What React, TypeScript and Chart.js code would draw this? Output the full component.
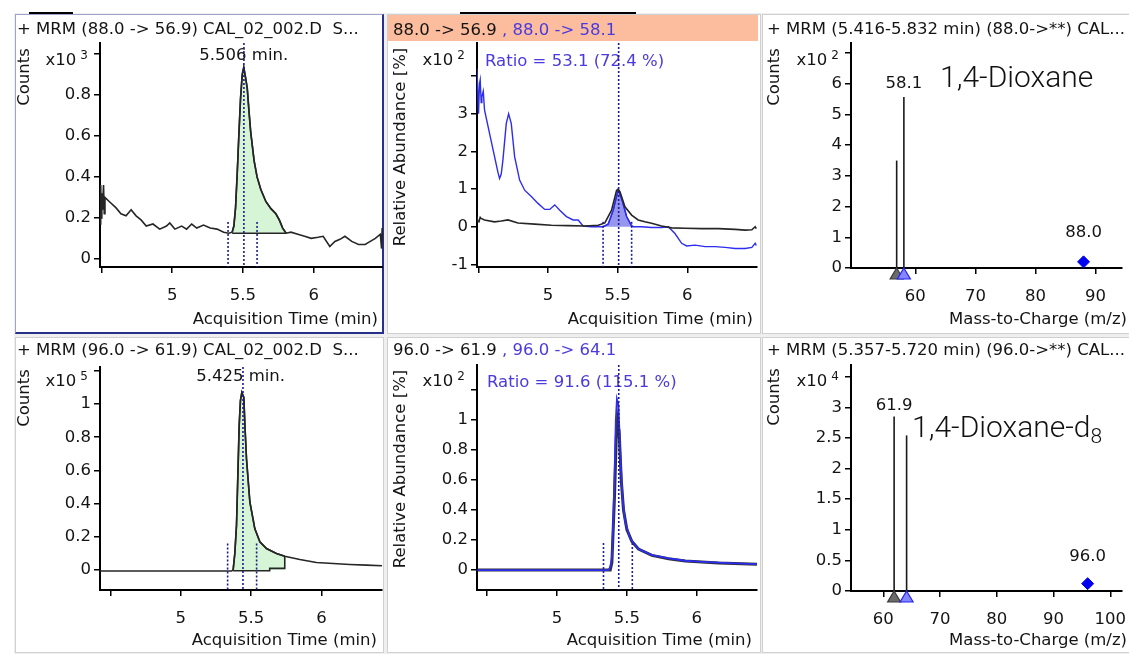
import React, { useEffect, useRef } from 'react';
import { Chart, registerables } from 'chart.js';

Chart.register(...registerables);

// ---------------- styling ----------------
const UI_FONT = '"DejaVu Sans", sans-serif';
const UI_SIZE = 16.5;
const INK = '#141414';
const TRACE = '#262626';
const QUAL_BLUE = '#2d2df0';
const TEXT_BLUE = '#4a3ae0';
const RT_NAVY = '#1c1c8e';
const PEAK_GREEN = 'rgb(214,245,214)';
const PEAK_LAVENDER = 'rgb(150,150,238)';

// ---------------- data ----------------
const timeTicks = [4.5, 5, 5.5, 6];
const hiddenTimeTicks = [4.5];

// 1,4-Dioxane quantifier 88.0 -> 56.9 (Counts x10^3)
const dxQuantTime = [4.492, 4.495, 4.498, 4.503, 4.508, 4.515, 4.52, 4.525, 4.555, 4.602, 4.638, 4.674, 4.71, 4.745, 4.78, 4.817, 4.864, 4.912, 4.96, 4.983, 5.019, 5.067, 5.102, 5.138, 5.174, 5.221, 5.269, 5.317, 5.364, 5.4, 5.424, 5.436, 5.448, 5.46, 5.471, 5.483, 5.495, 5.506, 5.52, 5.531, 5.543, 5.555, 5.579, 5.6, 5.626, 5.662, 5.698, 5.733, 5.757, 5.781, 5.805, 5.84, 5.888, 5.936, 5.983, 6.031, 6.067, 6.114, 6.15, 6.186, 6.221, 6.269, 6.317, 6.364, 6.4, 6.436, 6.471, 6.48, 6.484, 6.488];
const dxQuantCounts = [0.17, 0.36, 0.2, 0.32, 0.24, 0.36, 0.22, 0.3, 0.28, 0.25, 0.22, 0.21, 0.24, 0.21, 0.19, 0.16, 0.17, 0.145, 0.16, 0.175, 0.145, 0.16, 0.145, 0.17, 0.15, 0.165, 0.15, 0.145, 0.13, 0.125, 0.13, 0.16, 0.25, 0.42, 0.6, 0.78, 0.9, 0.935, 0.88, 0.83, 0.72, 0.62, 0.48, 0.4, 0.34, 0.28, 0.245, 0.22, 0.19, 0.15, 0.125, 0.13, 0.12, 0.11, 0.1, 0.105, 0.11, 0.06, 0.085, 0.095, 0.11, 0.085, 0.07, 0.07, 0.085, 0.1, 0.12, 0.05, 0.15, 0.09];
const dxPeakWindow = [5.424, 5.805];
const dxPeakBaseline = 0.125;
const dxRt = 5.506;
const dxRtLines = [5.395, 5.507, 5.6];
const dxCountTicks = [0, 0.2, 0.4, 0.6, 0.8, 1.0];

// 1,4-Dioxane qualifier overlay (Relative Abundance x10^2 %)
const dxQualTime = [4.489, 4.496, 4.501, 4.508, 4.513, 4.52, 4.525, 4.535, 4.544, 4.58, 4.616, 4.64, 4.652, 4.664, 4.676, 4.7, 4.717, 4.736, 4.76, 4.796, 4.832, 4.88, 4.928, 4.976, 5.012, 5.048, 5.084, 5.132, 5.18, 5.216, 5.252, 5.312, 5.396, 5.408, 5.432, 5.468, 5.504, 5.532, 5.564, 5.6, 5.612, 5.671, 5.743, 5.815, 5.863, 5.911, 5.959, 5.995, 6.055, 6.127, 6.199, 6.271, 6.343, 6.415, 6.463, 6.487, 6.495];
const dxQualAbund = [4.2, 3.6, 3.0, 3.8, 3.9, 3.3, 3.45, 3.6, 3.1, 2.48, 1.86, 1.45, 1.28, 1.4, 1.77, 2.74, 3.0, 2.74, 1.86, 1.24, 0.97, 0.8, 0.62, 0.46, 0.46, 0.58, 0.44, 0.27, 0.18, 0.18, 0.02, 0, 0, 0.02, 0.07, 0.44, 0.99, 0.7, 0.27, 0.02, 0, 0, -0.02, -0.02, 0, -0.18, -0.44, -0.51, -0.49, -0.53, -0.53, -0.55, -0.58, -0.58, -0.55, -0.44, -0.5];
const dxQuantOvTime = [4.489, 4.495, 4.504, 4.513, 4.52, 4.544, 4.616, 4.664, 4.712, 4.784, 4.904, 5.024, 5.144, 5.264, 5.36, 5.408, 5.456, 5.492, 5.504, 5.516, 5.552, 5.6, 5.647, 5.695, 5.743, 5.815, 5.887, 5.983, 6.103, 6.223, 6.343, 6.415, 6.463, 6.487, 6.495];
const dxQuantOvAbund = [0.27, 0.15, 0.13, 0.25, 0.22, 0.18, 0.13, 0.15, 0.18, 0.1, 0.07, 0.04, 0.03, 0.02, 0.04, 0.1, 0.44, 0.97, 0.99, 0.93, 0.53, 0.31, 0.18, 0.13, 0.09, 0.02, -0.03, -0.04, -0.05, -0.05, -0.07, -0.09, -0.08, 0, -0.05];
const dxQualWindow = [5.396, 5.612];
const dxRatioTicks = [-1, 0, 1, 2, 3, 4];
const dxRatioText = 'Ratio = 53.1 (72.4 %)';

// 1,4-Dioxane product ions 88.0 -> ** (Counts x10^2)
const dxIonMz = [56.9, 58.1];
const dxIonCounts = [3.5, 5.57];
const dxPrecursorMz = [88.0];
const dxPrecursorCounts = [0.2];
const dxSpecYTicks = [0, 1, 2, 3, 4, 5, 6, 7];
const dxSpecXTicks = [60, 70, 80, 90];

// 1,4-Dioxane-d8 quantifier 96.0 -> 61.9 (Counts x10^5)
const d8QuantTime = [4.426, 5.36, 5.372, 5.384, 5.396, 5.405, 5.415, 5.424, 5.434, 5.448, 5.457, 5.467, 5.491, 5.526, 5.562, 5.609, 5.68, 5.739, 5.846, 5.964, 6.083, 6.201, 6.32, 6.43];
const d8QuantCounts = [-0.006, -0.006, 0, 0.1, 0.27, 0.55, 0.87, 1.02, 1.07, 1.04, 0.85, 0.67, 0.41, 0.25, 0.17, 0.13, 0.1, 0.083, 0.064, 0.046, 0.04, 0.034, 0.03, 0.026];
const d8PeakWindow = [5.372, 5.739];
const d8BaseTime = [5.372, 5.632, 5.632, 5.739, 5.739];
const d8BaseCounts = [-0.004, -0.004, 0.01, 0.01, 0.083];
const d8Rt = 5.425;
const d8RtLines = [5.333, 5.442, 5.539];
const d8CountTicks = [0, 0.2, 0.4, 0.6, 0.8, 1.0, 1.2];

// 1,4-Dioxane-d8 qualifier overlay (Relative Abundance x10^2 %)
const d8QualTime = [4.433, 5.369, 5.381, 5.393, 5.402, 5.412, 5.421, 5.429, 5.44, 5.452, 5.469, 5.488, 5.524, 5.583, 5.679, 5.798, 5.917, 6.036, 6.155, 6.274, 6.43];
const d8QualAbund = [0, 0, 0.02, 0.08, 0.3, 0.63, 1.0, 1.14, 1.1, 0.79, 0.48, 0.32, 0.21, 0.14, 0.1, 0.078, 0.062, 0.055, 0.049, 0.044, 0.04];
const d8QuantOvTime = [4.433, 5.381, 5.393, 5.412, 5.424, 5.433, 5.445, 5.46, 5.476, 5.5, 5.536, 5.583, 5.679, 5.798, 5.917, 6.155, 6.43];
const d8QuantOvAbund = [0, 0, 0.05, 0.5, 0.88, 1.0, 0.92, 0.6, 0.4, 0.27, 0.19, 0.14, 0.098, 0.075, 0.06, 0.047, 0.038];
const d8RatioTicks = [0, 0.2, 0.4, 0.6, 0.8, 1.0, 1.2];
const d8RatioText = 'Ratio = 91.6 (115.1 %)';

// 1,4-Dioxane-d8 product ions 96.0 -> ** (Counts x10^4)
const d8IonMz = [61.9, 64.1];
const d8IonCounts = [2.85, 2.54];
const d8PrecursorMz = [96.0];
const d8PrecursorCounts = [0.12];
const d8SpecYTicks = [0, 0.5, 1, 1.5, 2, 2.5, 3, 3.5];
const d8SpecXTicks = [60, 70, 80, 90, 100];

// ---------------- helpers ----------------
const zip = (xs: number[], ys: number[]) =>
  xs.slice(0, Math.min(xs.length, ys.length)).map((x, i) => ({ x, y: ys[i] }));
const inWindow = (pts: any[], w: number[]) => pts.filter((p) => p.x >= w[0] - 1e-9 && p.x <= w[1] + 1e-9);

const line = (data: any[], color: string, width: number, order: number, extra: any = {}) => ({
  data,
  showLine: true,
  borderColor: color,
  backgroundColor: color,
  borderWidth: width,
  pointRadius: 0,
  fill: false,
  tension: 0,
  order,
  ...extra,
});

const rtLines = (ts: number[], edgeTop: number, yMin: number, yMax: number) =>
  ts.map((t, i) =>
    line(
      [
        { x: t, y: i === 1 ? yMax : edgeTop },
        { x: t, y: yMin },
      ],
      RT_NAVY,
      1.6,
      0,
      { borderDash: [2, 2] }
    )
  );

const sticks = (mz: number[], counts: number[]) =>
  zip(mz, counts).map((p) => line([{ x: p.x, y: 0 }, p], '#1a1a1a', 1.6, 1));

const fmt = (v: number) => String(Math.round(v * 1000) / 1000);

// ---------------- panels ----------------
const P1 = { yMin: -0.04, yMax: 1.054 };
const P2 = { yMin: -1.07, yMax: 4.88 };
const P3 = { yMin: 0, yMax: 7.33 };
const P4 = { yMin: -0.12, yMax: 1.223 };
const P5 = { yMin: -0.133, yMax: 1.367 };
const P6 = { yMin: 0, yMax: 3.69 };

const dxQuantPts = zip(dxQuantTime, dxQuantCounts);
const dxQualPts = zip(dxQualTime, dxQualAbund);
const d8QuantPts = zip(d8QuantTime, d8QuantCounts);

const PANELS: any[] = [
  {
    id: 'p1', left: 16, top: 15, w: 367, h: 317,
    area: { l: 84, t: 28, r: 367, b: 252 },
    xMin: 4.49, xMax: 6.49, xTicks: timeTicks, xHidden: hiddenTimeTicks,
    yMin: P1.yMin, yMax: P1.yMax, yTicks: dxCountTicks, yHidden: [1.0],
    datasets: [
      line(dxQuantPts, TRACE, 1.6, 1),
      line(inWindow(dxQuantPts, dxPeakWindow), TRACE, 1.6, 3, { fill: { value: dxPeakBaseline }, backgroundColor: PEAK_GREEN }),
      line([{ x: dxPeakWindow[0], y: dxPeakBaseline }, { x: dxPeakWindow[1], y: dxPeakBaseline }], TRACE, 1.6, 1),
      ...rtLines(dxRtLines, 0.18, P1.yMin, P1.yMax),
    ],
    texts: [{ text: dxRt.toFixed(3) + ' min.', x: dxRt, dy: 13, align: 'center', color: INK }],
    markers: [],
  },
  {
    id: 'p2', left: 388, top: 15, w: 372, h: 317,
    area: { l: 89, t: 28, r: 369, b: 252 },
    xMin: 4.49, xMax: 6.5, xTicks: timeTicks, xHidden: hiddenTimeTicks,
    yMin: P2.yMin, yMax: P2.yMax, yTicks: dxRatioTicks, yHidden: [4],
    datasets: [
      line(zip(dxQuantOvTime, dxQuantOvAbund), TRACE, 1.6, 1),
      line(dxQualPts, QUAL_BLUE, 1.4, 2),
      line(inWindow(dxQualPts, dxQualWindow), QUAL_BLUE, 1.4, 3, { fill: { value: 0 }, backgroundColor: PEAK_LAVENDER }),
      ...rtLines(dxRtLines, 0.13, P2.yMin, P2.yMax),
    ],
    texts: [{ text: dxRatioText, dx: 8, dy: 19, align: 'left', color: TEXT_BLUE }],
    markers: [],
  },
  {
    id: 'p3', left: 763, top: 15, w: 366, h: 317,
    area: { l: 88, t: 28, r: 366, b: 253 },
    xMin: 49.3, xMax: 94.4, xTicks: dxSpecXTicks, xHidden: [],
    yMin: P3.yMin, yMax: P3.yMax, yTicks: dxSpecYTicks, yHidden: [7],
    datasets: [
      ...sticks(dxIonMz, dxIonCounts),
      {
        data: zip(dxPrecursorMz, dxPrecursorCounts), showLine: false, pointStyle: 'rectRot', pointRadius: 6,
        backgroundColor: '#0000f0', borderColor: '#0000f0', borderWidth: 1, order: 0,
      },
    ],
    texts: [
      { text: dxIonMz[1].toFixed(1), x: dxIonMz[1], y: dxIonCounts[1], dy: -13, align: 'center', color: INK },
      { text: dxPrecursorMz[0].toFixed(1), x: dxPrecursorMz[0], y: dxPrecursorCounts[0], dy: -29, align: 'center', color: INK },
    ],
    markers: [
      { x: dxIonMz[0], fill: '#6b6b6b', stroke: '#3a3a3a' },
      { x: dxIonMz[1], fill: '#8585ff', stroke: '#2424ee' },
    ],
  },
  {
    id: 'p4', left: 16, top: 338, w: 367, h: 313,
    area: { l: 84, t: 29, r: 366, b: 252 },
    xMin: 4.426, xMax: 6.43, xTicks: timeTicks, xHidden: hiddenTimeTicks,
    yMin: P4.yMin, yMax: P4.yMax, yTicks: d8CountTicks, yHidden: [1.2],
    datasets: [
      line(d8QuantPts, TRACE, 1.6, 1),
      line(inWindow(d8QuantPts, d8PeakWindow), TRACE, 1.6, 3, { fill: { value: 0 }, backgroundColor: PEAK_GREEN }),
      line(zip(d8BaseTime, d8BaseCounts), TRACE, 1.6, 1),
      ...rtLines(d8RtLines, 0.16, P4.yMin, P4.yMax),
    ],
    texts: [{ text: d8Rt.toFixed(3) + ' min.', x: d8Rt, dy: 10, align: 'center', color: INK }],
    markers: [],
  },
  {
    id: 'p5', left: 388, top: 338, w: 372, h: 313,
    area: { l: 89, t: 27, r: 369, b: 252 },
    xMin: 4.429, xMax: 6.43, xTicks: timeTicks, xHidden: hiddenTimeTicks,
    yMin: P5.yMin, yMax: P5.yMax, yTicks: d8RatioTicks, yHidden: [1.2],
    datasets: [
      line(zip(d8QualTime, d8QualAbund), QUAL_BLUE, 1.8, 1),
      line(zip(d8QuantOvTime, d8QuantOvAbund), '#303030', 3, 2),
      ...rtLines(d8RtLines, 0.18, P5.yMin, P5.yMax),
    ],
    texts: [{ text: d8RatioText, dx: 10, dy: 18, align: 'left', color: TEXT_BLUE }],
    markers: [],
  },
  {
    id: 'p6', left: 763, top: 338, w: 366, h: 313,
    area: { l: 88, t: 27, r: 366, b: 253 },
    xMin: 54.3, xMax: 102.06, xTicks: d8SpecXTicks, xHidden: [],
    yMin: P6.yMin, yMax: P6.yMax, yTicks: d8SpecYTicks, yHidden: [3.5],
    datasets: [
      ...sticks(d8IonMz, d8IonCounts),
      {
        data: zip(d8PrecursorMz, d8PrecursorCounts), showLine: false, pointStyle: 'rectRot', pointRadius: 6,
        backgroundColor: '#0000f0', borderColor: '#0000f0', borderWidth: 1, order: 0,
      },
    ],
    texts: [
      { text: d8IonMz[0].toFixed(1), x: d8IonMz[0], y: d8IonCounts[0], dy: -11, align: 'center', color: INK },
      { text: d8PrecursorMz[0].toFixed(1), x: d8PrecursorMz[0], y: d8PrecursorCounts[0], dy: -27, align: 'center', color: INK },
    ],
    markers: [
      { x: d8IonMz[0], fill: '#6b6b6b', stroke: '#3a3a3a' },
      { x: d8IonMz[1], fill: '#8585ff', stroke: '#2424ee' },
    ],
  },
];

function buildConfig(p: any): any {
  const annot = {
    id: 'annot_' + p.id,
    beforeDatasetsDraw(chart: any) {
      const { ctx, chartArea: ca, scales } = chart;
      ctx.save();
      ctx.font = `${UI_SIZE}px ${UI_FONT}`;
      ctx.textBaseline = 'middle';
      for (const t of p.texts) {
        const px = t.x !== undefined ? scales.x.getPixelForValue(t.x) : ca.left + (t.dx || 0);
        const py = t.y !== undefined ? scales.y.getPixelForValue(t.y) + t.dy : ca.top + t.dy;
        ctx.fillStyle = t.color || INK;
        ctx.textAlign = t.align || 'center';
        ctx.fillText(t.text, px, py);
      }
      ctx.restore();
    },
    afterDatasetsDraw(chart: any) {
      const { ctx, chartArea: ca, scales } = chart;
      ctx.save();
      for (const m of p.markers) {
        const px = scales.x.getPixelForValue(m.x);
        const y0 = ca.bottom;
        ctx.beginPath();
        ctx.moveTo(px, y0);
        ctx.lineTo(px + 6.5, y0 + 11);
        ctx.lineTo(px - 6.5, y0 + 11);
        ctx.closePath();
        ctx.fillStyle = m.fill;
        ctx.fill();
        ctx.lineWidth = 1.2;
        ctx.strokeStyle = m.stroke;
        ctx.stroke();
      }
      ctx.restore();
    },
  };

  const tickFont = { family: UI_FONT, size: UI_SIZE };
  const axisCommon = {
    type: 'linear',
    grid: { drawOnChartArea: false, drawTicks: true, tickLength: 6, color: '#000', lineWidth: 1.5 },
    border: { display: true, color: '#000', width: 2 },
  };

  return {
    type: 'scatter',
    data: { datasets: p.datasets },
    options: {
      animation: false,
      responsive: false,
      devicePixelRatio: 1,
      events: [],
      layout: { padding: { left: 0, top: p.area.t, right: p.w - p.area.r, bottom: 0 } },
      plugins: { legend: { display: false }, tooltip: { enabled: false }, title: { display: false } },
      scales: {
        x: {
          ...axisCommon,
          position: 'bottom',
          min: p.xMin,
          max: p.xMax,
          afterBuildTicks: (s: any) => {
            s.ticks = p.xTicks.map((v: number) => ({ value: v }));
          },
          afterFit: (s: any) => {
            s.height = p.h - p.area.b;
            s.paddingLeft = 0; s.paddingRight = 0; s.paddingTop = 0; s.paddingBottom = 0;
          },
          ticks: {
            autoSkip: false, maxRotation: 0, minRotation: 0, padding: 13, color: INK, font: tickFont,
            callback: (v: number) => (p.xHidden.includes(v) ? '' : fmt(v)),
          },
        },
        y: {
          ...axisCommon,
          position: 'left',
          min: p.yMin,
          max: p.yMax,
          afterBuildTicks: (s: any) => {
            s.ticks = p.yTicks.map((v: number) => ({ value: v }));
          },
          afterFit: (s: any) => {
            s.width = p.area.l;
            s.paddingLeft = 0; s.paddingRight = 0; s.paddingTop = 0; s.paddingBottom = 0;
          },
          ticks: {
            autoSkip: false, padding: 3, color: INK, font: tickFont,
            callback: (v: number) => (p.yHidden.includes(v) ? '' : fmt(v)),
          },
        },
      },
    },
    plugins: [annot],
  };
}

function ChartCanvas({ cfg }: { cfg: any }) {
  const ref = useRef<HTMLCanvasElement | null>(null);
  useEffect(() => {
    if (!ref.current) return;
    const chart = new Chart(ref.current, buildConfig(cfg));
    return () => chart.destroy();
  }, [cfg]);
  return (
    <canvas
      ref={ref}
      width={cfg.w}
      height={cfg.h}
      style={{ position: 'absolute', left: cfg.left, top: cfg.top, width: cfg.w, height: cfg.h }}
    />
  );
}

// ---------------- overlay text ----------------
const PAGE_W = 1129;
const baseText: any = { position: 'absolute', fontFamily: UI_FONT, fontSize: UI_SIZE, lineHeight: 1, whiteSpace: 'pre', color: INK };

const Txt = ({ x, cy, children, right, color }: any) => (
  <div style={{ ...baseText, ...(right ? { right: PAGE_W - x } : { left: x }), top: cy - 7.9, color: color || INK }}>{children}</div>
);
const VTxt = ({ cx, cy, children }: any) => (
  <div style={{ ...baseText, left: cx, top: cy, transform: 'translate(-50%, -50%) rotate(-90deg)' }}>{children}</div>
);
const Exp = ({ axisX, cy, n }: any) => (
  <div style={{ ...baseText, right: PAGE_W - (axisX - 12), top: cy - 8 }}>
    x10<span style={{ fontSize: 12, position: 'relative', top: -6, marginLeft: 4 }}>{n}</span>
  </div>
);

const frame = (left: number, top: number, w: number, h: number, selected = false): any => ({
  position: 'absolute', left, top, width: w, height: h, boxSizing: 'border-box', background: '#fff',
  borderStyle: 'solid',
  borderColor: selected ? '#9ea3c9 #27308a #27308a #9ea3c9' : '#d0d0d0',
  borderWidth: selected ? '1px 2px 2px 1px' : '1px',
});

export default function App() {
  return (
    <div style={{ position: 'fixed', left: 0, top: 0, width: PAGE_W, height: 654, background: '#fff', overflow: 'hidden' }}>
      <div style={{ position: 'absolute', left: 14, top: 13, width: 1115, height: 641, background: '#efefef' }} />
      <div style={frame(15, 14, 369, 320, true)} />
      <div style={frame(387, 14, 374, 320)} />
      <div style={frame(762, 14, 370, 320)} />
      <div style={frame(15, 337, 369, 316)} />
      <div style={frame(387, 337, 374, 316)} />
      <div style={frame(762, 337, 370, 316)} />
      <div style={{ position: 'absolute', left: 29, top: 12, width: 44, height: 2, background: '#000' }} />
      <div style={{ position: 'absolute', left: 460, top: 12, width: 176, height: 2, background: '#000' }} />
      <div style={{ position: 'absolute', left: 388, top: 15, width: 370, height: 26, background: '#fbbd9d' }} />

      {PANELS.map((p) => (
        <ChartCanvas key={p.id} cfg={p} />
      ))}

      {/* panel titles */}
      <Txt x={17} cy={28.5}>{'+ MRM (88.0 -> 56.9) CAL_02_002.D  S...'}</Txt>
      <Txt x={393} cy={29.5}>
        {'88.0 -> 56.9'}<span style={{ color: TEXT_BLUE }}>{' , 88.0 -> 58.1'}</span>
      </Txt>
      <Txt x={767} cy={28.5}>{'+ MRM (5.416-5.832 min) (88.0->**) CAL...'}</Txt>
      <Txt x={17} cy={350}>{'+ MRM (96.0 -> 61.9) CAL_02_002.D  S...'}</Txt>
      <Txt x={393} cy={350}>
        {'96.0 -> 61.9'}<span style={{ color: TEXT_BLUE }}>{' , 96.0 -> 64.1'}</span>
      </Txt>
      <Txt x={767} cy={350}>{'+ MRM (5.357-5.720 min) (96.0->**) CAL...'}</Txt>

      {/* y axis titles */}
      <VTxt cx={24} cy={77}>Counts</VTxt>
      <VTxt cx={400} cy={146.5}>Relative Abundance [%]</VTxt>
      <VTxt cx={774} cy={77}>Counts</VTxt>
      <VTxt cx={24} cy={397.5}>Counts</VTxt>
      <VTxt cx={400} cy={469}>Relative Abundance [%]</VTxt>
      <VTxt cx={774} cy={397}>Counts</VTxt>

      {/* exponents */}
      <Exp axisX={100} cy={60} n="3" />
      <Exp axisX={477} cy={60} n="2" />
      <Exp axisX={851} cy={60} n="2" />
      <Exp axisX={100} cy={381} n="5" />
      <Exp axisX={477} cy={381} n="2" />
      <Exp axisX={851} cy={381} n="4" />

      {/* x axis titles */}
      <Txt x={378} cy={319} right>Acquisition Time (min)</Txt>
      <Txt x={753} cy={319} right>Acquisition Time (min)</Txt>
      <Txt x={1127} cy={319} right>Mass-to-Charge (m/z)</Txt>
      <Txt x={377} cy={639.5} right>Acquisition Time (min)</Txt>
      <Txt x={752} cy={639.5} right>Acquisition Time (min)</Txt>
      <Txt x={1127} cy={639.5} right>Mass-to-Charge (m/z)</Txt>

      {/* compound labels */}
      <div style={{ position: 'absolute', left: 940, top: 61.7, fontFamily: 'Roboto, sans-serif', fontWeight: 300, fontSize: 30, lineHeight: 1, whiteSpace: 'nowrap', color: '#111' }}>
        1,4-Dioxane
      </div>
      <div style={{ position: 'absolute', left: 912, top: 411.7, fontFamily: 'Roboto, sans-serif', fontWeight: 300, fontSize: 30, lineHeight: 1, whiteSpace: 'nowrap', color: '#111' }}>
        1,4-Dioxane-d<span style={{ fontSize: 21, position: 'relative', top: 6 }}>8</span>
      </div>
    </div>
  );
}
